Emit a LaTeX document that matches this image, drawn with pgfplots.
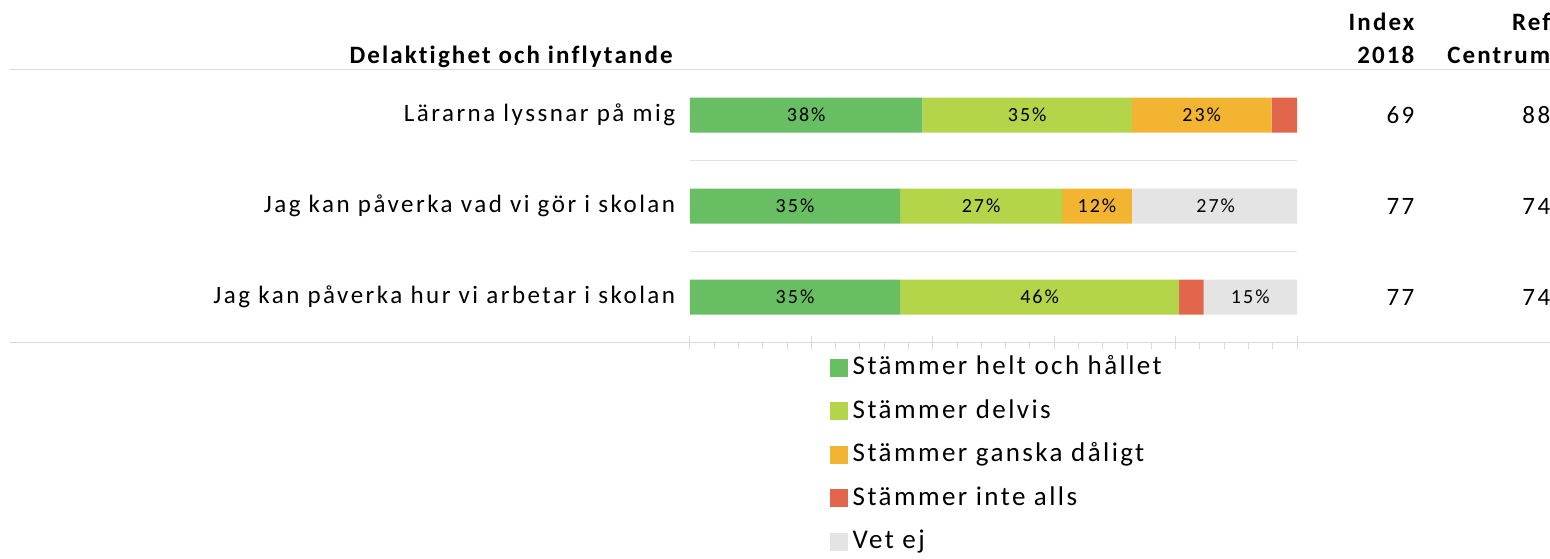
\documentclass[border=0pt]{standalone}
\usepackage{fontspec}
\setmainfont{Carlito}
\newfontfamily\catfont[LetterSpace=10,Ligatures={NoCommon,NoRare}]{Carlito}
\newfontfamily\legfont[LetterSpace=9,Ligatures={NoCommon,NoRare}]{Carlito}
\newfontfamily\boldcat[LetterSpace=8.5,Ligatures={NoCommon,NoRare},BoldFont={Carlito Bold}]{Carlito}
\usepackage{pgfplots}
\pgfplotsset{compat=1.18}
\usepackage{pgfplotstable}

\definecolor{cGreen}{HTML}{68BE63}
\definecolor{cLime}{HTML}{B4D44A}
\definecolor{cOrange}{HTML}{F2B431}
\definecolor{cRed}{HTML}{E1664B}
\definecolor{cGray}{HTML}{E4E4E4}
\definecolor{lineGray}{HTML}{D9D9D9}
\definecolor{sepGray}{HTML}{E3E3E3}

% rows: y=2 Lärarna..., y=1 vad vi gör, y=0 hur vi arbetar
\pgfplotstableread{
y helt delvis ganska inte vetej
2 38.3 34.5 23.0 4.2 0.0
1 34.6 26.7 11.5 0.0 27.2
0 34.6 46.0 0.0 4.0 15.4
}\datatable

\pgfplotstableread{
x y lab
19.15 2 38\%
55.55 2 35\%
84.3  2 23\%
17.3  1 35\%
47.95 1 27\%
67.05 1 12\%
86.6  1 27\%
17.3  0 35\%
57.6  0 46\%
92.3  0 15\%
}\labtable

\newcommand\numfont{\catfont\fontsize{12.5}{14}\selectfont}
\newcommand\hdrfont{\boldcat\bfseries\fontsize{12.5}{14}\selectfont}

\begin{document}
\begin{tikzpicture}
\pgfplotsset{
  base/.style={
    width=303.5pt, height=136.5pt, scale only axis,
    xmin=0, xmax=100, ymin=-0.5, ymax=2.5,
  }
}
\begin{axis}[base,
  xbar stacked, bar width=17.5pt,
  ytick={0,1,2},
  yticklabels={Jag kan påverka hur vi arbetar i skolan, Jag kan påverka vad vi gör i skolan, Lärarna lyssnar på mig},
  yticklabel style={font=\numfont, inner sep=0pt, xshift=-4pt, text=black},
  ytick style={draw=none},
  xtick={0,20,...,100}, minor x tick num=4, xticklabels={},
  xtick pos=bottom,
  tick align=center, major tick length=6.5pt, minor tick length=3pt,
  major x tick style={draw=lineGray, line width=0.5pt},
  minor x tick style={draw=lineGray, line width=0.5pt, yshift=-1.5pt},
  axis line style={draw=none},
  clip=false,
  legend style={draw=none, fill=none, at={(rel axis cs:0.2295,0)}, yshift=-4pt, anchor=north west,
    font=\legfont\fontsize{13.5}{15}\selectfont, inner xsep=0pt, inner ysep=0pt,
    row sep=4.75pt,
    nodes={inner sep=2pt, text height=10pt, text depth=3pt},
    /tikz/every odd column/.append style={column sep=0.5pt}},
  legend cell align=left,
  legend image code/.code={\fill[#1] (0pt,-4.5pt) rectangle (9pt,4.5pt);},
]
\addplot[fill=cGreen, draw=none] table[x=helt, y=y] {\datatable};
\addplot[fill=cLime, draw=none] table[x=delvis, y=y] {\datatable};
\addplot[fill=cOrange, draw=none] table[x=ganska, y=y] {\datatable};
\addplot[fill=cRed, draw=none] table[x=inte, y=y] {\datatable};
\addplot[fill=cGray, draw=none] table[x=vetej, y=y] {\datatable};
\legend{Stämmer helt och hållet, Stämmer delvis, Stämmer ganska dåligt, Stämmer inte alls, Vet ej}

% separators and frame lines
\draw[sepGray, line width=0.75pt] (axis cs:0,0.5) -- (axis cs:100,0.5);
\draw[sepGray, line width=0.75pt] (axis cs:0,1.5) -- (axis cs:100,1.5);
\draw[lineGray, line width=0.75pt] ([xshift=-340pt]rel axis cs:0,1) -- ([xshift=130pt]rel axis cs:1,1);
\draw[lineGray, line width=0.75pt] ([xshift=-340pt]rel axis cs:0,0) -- ([xshift=130pt]rel axis cs:1,0);

% headers
\node[anchor=base east, inner sep=0pt, font=\hdrfont] at ([xshift=-8.5pt]axis cs:0,2.571) {Delaktighet och inflytande};
\node[anchor=base east, inner sep=0pt, font=\hdrfont] at (axis cs:119.4,2.934) {Index};
\node[anchor=base east, inner sep=0pt, font=\hdrfont] at (axis cs:119.4,2.571) {2018};
\node[anchor=base east, inner sep=0pt, font=\hdrfont] at (axis cs:141.8,2.934) {Ref};
\node[anchor=base east, inner sep=0pt, font=\hdrfont] at (axis cs:141.8,2.571) {Centrum};

% index columns
\node[anchor=east, inner sep=0pt, font=\numfont] at (axis cs:119.4,2) {69};
\node[anchor=east, inner sep=0pt, font=\numfont] at (axis cs:119.4,1) {77};
\node[anchor=east, inner sep=0pt, font=\numfont] at (axis cs:119.4,0) {77};
\node[anchor=east, inner sep=0pt, font=\numfont] at (axis cs:141.8,2) {88};
\node[anchor=east, inner sep=0pt, font=\numfont] at (axis cs:141.8,1) {74};
\node[anchor=east, inner sep=0pt, font=\numfont] at (axis cs:141.8,0) {74};
\end{axis}

\begin{axis}[base, hide axis, clip=false]
\addplot[draw=none, mark=none, nodes near coords, point meta=explicit symbolic,
  every node near coord/.style={anchor=center, inner sep=0pt, font=\catfont\fontsize{10}{12}\selectfont, text=black}]
  table[x=x, y=y, meta=lab] {\labtable};
\end{axis}

\pgfresetboundingbox
\useasboundingbox (-345pt,-107.75pt) rectangle (430pt,171.25pt);
\end{tikzpicture}
\end{document}
